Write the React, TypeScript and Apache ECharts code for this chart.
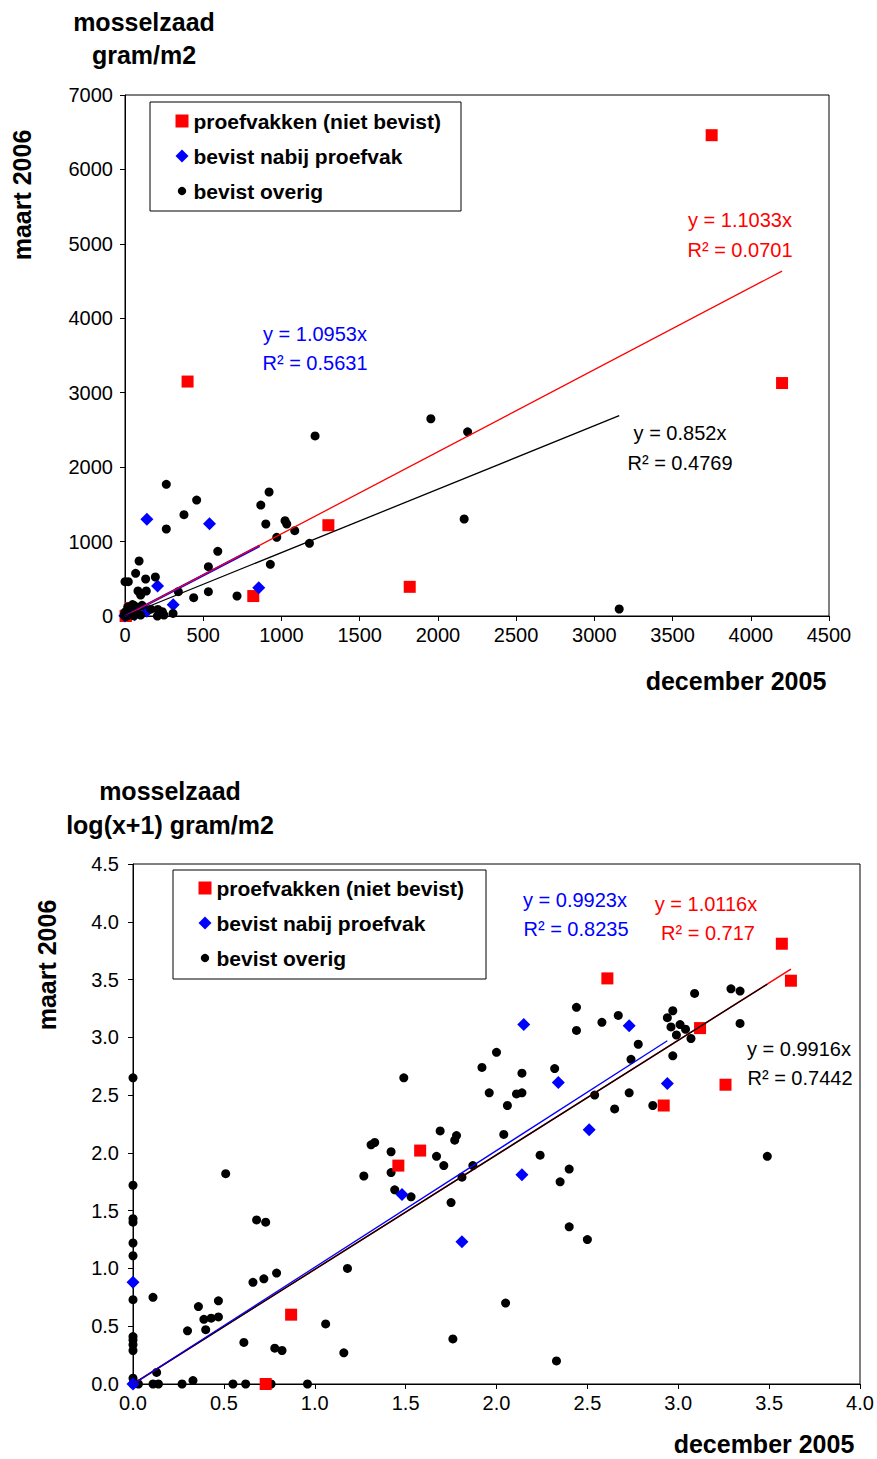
import React, { useEffect, useRef } from "react";
import * as echarts from "echarts";

const FONT = "'Liberation Sans', Arial, Helvetica, sans-serif";

const seriesNames = ["proefvakken (niet bevist)", "bevist nabij proefvak", "bevist overig"];

// ---------- Chart 1: gram/m2 ----------
const x1Range = [0, 4500, 500];
const y1Range = [0, 7000, 1000];

const red1 = [
  [400, 3150], [3750, 6460], [4200, 3130], [1300, 1220], [1820, 392], [820, 268],
  [37, 106], [29, 77], [6, 3], [4, 0],
];
const blue1 = [
  [140, 1300], [540, 1240], [208, 403], [308, 150], [855, 380],
  [29, 44], [62, 16], [140, 64], [0, 7], [0, 0],
];
const black1 = [
  [1215, 2420], [1955, 2650], [2190, 2475], [2168, 1303], [3159, 94], [264, 1769],
  [458, 1558], [377, 1361], [264, 1169], [921, 1666], [868, 1491], [900, 1236],
  [1023, 1280], [1034, 1236], [1085, 1146], [970, 1057], [1179, 977], [593, 869],
  [533, 663], [929, 694], [90, 739], [68, 573], [132, 497], [194, 524], [0, 461],
  [21, 461], [83, 336], [136, 336], [100, 282], [341, 327], [533, 327], [439, 246],
  [716, 269], [165, 92], [210, 88], [239, 58], [307, 34], [100, 13], [207, 0],
  [249, 13], [48, 154], [59, 140], [58, 128], [109, 144], [25, 101], [18, 62],
  [19, 116], [20, 122], [25, 67], [46, 92], [50, 77], [73, 77], [64, 61], [27, 47],
  [33, 41], [55, 36], [57, 2], [14, 9], [10, 2], [13, 1], [8, 0], [0, 52], [0, 27],
  [0, 16], [0, 12], [0, 4], [0, 1], [0, 0], [2, 0], [5, 0], [1, 0],
];
const trendRed1 = [[0, 0], [4200, 4634]];
const trendBlue1 = [[0, 0], [860, 942]];
const trendBlack1 = [[0, 0], [3159, 2691]];
const eqRed1 = ["y = 1.1033x", "R² = 0.0701"];
const eqBlue1 = ["y = 1.0953x", "R² = 0.5631"];
const eqBlack1 = ["y = 0.852x", "R² = 0.4769"];

// ---------- Chart 2: log(x+1) gram/m2 ----------
const x2Range = [0, 4, 0.5];
const y2Range = [0, 4.5, 0.5];

const red2 = [
  [3.57, 3.81], [3.62, 3.49], [2.61, 3.51], [3.12, 3.08], [3.26, 2.59], [2.92, 2.41],
  [1.58, 2.02], [1.46, 1.89], [0.87, 0.6], [0.73, 0.0],
];
const blue2 = [
  [0, 0.88], [0, 0], [1.48, 1.64], [1.81, 1.23], [2.14, 1.81], [2.15, 3.11],
  [2.34, 2.61], [2.51, 2.2], [2.73, 3.1], [2.94, 2.6],
];
const black2 = [
  [0, 2.65], [0, 1.72], [0, 1.43], [0, 1.4], [0, 1.22], [0, 1.11], [0, 0.73],
  [0, 0.41], [0, 0.38], [0, 0.34], [0, 0.29], [0, 0.05], [0, 0.0],
  [0.11, 0.75], [0.13, 0.1], [0.03, 0], [0.11, 0], [0.14, 0], [0.27, 0], [0.33, 0.03],
  [0.3, 0.46], [0.36, 0.67], [0.4, 0.47], [0.39, 0.56], [0.43, 0.57], [0.47, 0.58],
  [0.47, 0.72], [0.51, 1.82], [0.55, 0], [0.62, 0], [0.61, 0.36], [0.66, 0.88],
  [0.72, 0.91], [0.68, 1.42], [0.73, 1.4], [0.79, 0.96], [0.76, 0], [0.78, 0.31],
  [0.82, 0.29], [0.96, 0], [1.06, 0.52], [1.16, 0.27], [1.18, 1.0], [1.27, 1.8],
  [1.31, 2.07], [1.33, 2.09], [1.49, 2.65], [1.96, 2.52], [2.11, 2.51], [2.14, 2.52],
  [2.06, 2.41], [2.54, 2.5], [1.69, 2.19], [1.78, 2.15], [1.77, 2.11], [2.04, 2.16],
  [1.42, 2.01], [1.42, 1.83], [1.67, 1.97], [1.71, 1.89], [1.87, 1.89], [1.81, 1.79],
  [1.44, 1.68], [1.53, 1.62], [1.75, 1.57], [2.24, 1.98], [2.4, 1.86], [2.35, 1.75],
  [2.4, 1.36], [2.5, 1.25], [2.05, 0.7], [1.76, 0.39], [2.33, 0.2], [2.44, 3.26],
  [2.44, 3.06], [2.58, 3.13], [2.0, 2.87], [1.92, 2.74], [2.14, 2.69], [2.32, 2.73],
  [2.67, 3.19], [2.78, 2.94], [2.74, 2.81], [3.09, 3.38], [3.29, 3.42], [3.34, 3.4],
  [2.97, 3.23], [2.94, 3.17], [2.96, 3.09], [3.01, 3.11], [3.04, 3.07], [2.99, 3.02],
  [3.07, 2.99], [3.34, 3.12], [2.97, 2.84], [2.73, 2.52], [2.65, 2.38], [2.86, 2.41],
  [3.49, 1.97],
];
const trendRed2 = [[0, 0], [3.62, 3.59]];
const trendBlue2 = [[0, 0], [2.94, 2.97]];
const trendBlack2 = [[0, 0], [3.49, 3.46]];
const eqBlue2 = ["y = 0.9923x", "R² = 0.8235"];
const eqRed2 = ["y = 1.0116x", "R² = 0.717"];
const eqBlack2 = ["y = 0.9916x", "R² = 0.7442"];

const RED = "#ff0000";
const BLUE = "#0000ff";
const BLACK = "#000000";

const circleIcon = "path://M0,0M14,14M7,2.5A4.5,4.5,0,1,1,6.99,2.5Z";

function axis(gridIndex: number, r: number[], margin: number, fmt: (v: number) => string) {
  return {
    type: "value",
    gridIndex,
    min: r[0],
    max: r[1],
    interval: r[2],
    axisLine: { show: true, onZero: false, lineStyle: { color: BLACK, width: 1 } },
    axisTick: { show: true, inside: false, length: 5, lineStyle: { color: BLACK, width: 1 } },
    axisLabel: {
      color: BLACK,
      fontSize: 20,
      fontFamily: FONT,
      margin,
      formatter: (v: number) => fmt(v),
    },
    splitLine: { show: false },
  };
}

function scatter(name: string, data: number[][], idx: number, symbol: string, size: number, color: string, z: number) {
  return {
    type: "scatter",
    name,
    data,
    xAxisIndex: idx,
    yAxisIndex: idx,
    symbol,
    symbolSize: size,
    itemStyle: { color, opacity: 1 },
    z,
  };
}

function trend(name: string, data: number[][], idx: number, color: string, width: number, z: number) {
  return {
    type: "line",
    name,
    data,
    xAxisIndex: idx,
    yAxisIndex: idx,
    symbol: "none",
    showSymbol: false,
    silent: true,
    lineStyle: { color, width },
    z,
  };
}

function legend(left: number, top: number) {
  return {
    left,
    top,
    orient: "vertical",
    padding: 0,
    itemGap: 14,
    itemWidth: 13,
    itemHeight: 13,
    selectedMode: false,
    textStyle: { fontFamily: FONT, fontSize: 21, fontWeight: "bold", color: BLACK, lineHeight: 21 },
    data: [
      { name: seriesNames[0], icon: "rect" },
      { name: seriesNames[1], icon: "diamond" },
      { name: seriesNames[2], icon: circleIcon },
    ],
  };
}

function txt(x: number, y: number, text: string, size: number, color: string, bold = false, rotation = 0) {
  return {
    type: "text",
    x,
    y,
    rotation,
    silent: true,
    style: {
      text,
      fill: color,
      font: `${bold ? "bold " : ""}${size}px ${FONT}`,
      textAlign: "center",
      textVerticalAlign: "middle",
    },
  };
}

function box(x: number, y: number, w: number, h: number) {
  return {
    type: "rect",
    shape: { x, y, width: w, height: h },
    style: { fill: "#fff", stroke: BLACK, lineWidth: 1 },
    z: 1,
    silent: true,
  };
}

export default function App() {
  const ref = useRef<HTMLDivElement>(null);
  useEffect(() => {
    if (!ref.current) return;
    const chart = echarts.init(ref.current, undefined, { renderer: "svg" });
    const fmt0 = (v: number) => String(v);
    const fmt1 = (v: number) => v.toFixed(1);
    const option: any = {
      animation: false,
      backgroundColor: "#ffffff",
      textStyle: { fontFamily: FONT },
      grid: [
        { left: 125, top: 95, width: 704, height: 521, show: true, borderColor: BLACK, borderWidth: 1, backgroundColor: "transparent" },
        { left: 133, top: 864, width: 727, height: 520, show: true, borderColor: BLACK, borderWidth: 1, backgroundColor: "transparent" },
      ],
      xAxis: [axis(0, x1Range, 9, fmt0), axis(1, x2Range, 9, fmt1)],
      yAxis: [axis(0, y1Range, 12, fmt0), axis(1, y2Range, 14, fmt1)],
      legend: [legend(175.5, 110.5), legend(198.5, 877.5)],
      series: [
        // chart 1: black markers drawn on top
        scatter(seriesNames[0], red1, 0, "rect", 12, RED, 2),
        scatter(seriesNames[1], blue1, 0, "diamond", 13, BLUE, 2),
        scatter(seriesNames[2], black1, 0, "circle", 9, BLACK, 2),
        trend("trend blauw 1", trendBlue1, 0, BLUE, 2.5, 3),
        trend("trend rood 1", trendRed1, 0, RED, 1.3, 4),
        trend("trend zwart 1", trendBlack1, 0, BLACK, 1.3, 4),
        // chart 2: red markers drawn on top
        scatter(seriesNames[2], black2, 1, "circle", 9, BLACK, 2),
        scatter(seriesNames[1], blue2, 1, "diamond", 13, BLUE, 2),
        scatter(seriesNames[0], red2, 1, "rect", 12, RED, 2),
        trend("trend rood 2", trendRed2, 1, RED, 1.5, 3),
        trend("trend zwart 2", trendBlack2, 1, BLACK, 1.3, 4),
        trend("trend blauw 2", trendBlue2, 1, BLUE, 1.3, 5),
      ],
      graphic: [
        box(150, 102, 311, 109),
        box(173, 870, 313, 109),
        txt(144, 22, "mosselzaad", 25, BLACK, true),
        txt(144, 55, "gram/m2", 25, BLACK, true),
        txt(22, 195, "maart 2006", 25, BLACK, true, Math.PI / 2),
        txt(736, 681, "december 2005", 25, BLACK, true),
        txt(740, 220, eqRed1[0], 20, RED),
        txt(740, 250, eqRed1[1], 20, RED),
        txt(315, 334, eqBlue1[0], 20, BLUE),
        txt(315, 363, eqBlue1[1], 20, BLUE),
        txt(680, 433, eqBlack1[0], 20, BLACK),
        txt(680, 463, eqBlack1[1], 20, BLACK),
        txt(170, 791, "mosselzaad", 25, BLACK, true),
        txt(170, 825, "log(x+1) gram/m2", 25, BLACK, true),
        txt(47, 965, "maart 2006", 25, BLACK, true, Math.PI / 2),
        txt(764, 1444, "december 2005", 25, BLACK, true),
        txt(575, 900, eqBlue2[0], 20, BLUE),
        txt(576, 929, eqBlue2[1], 20, BLUE),
        txt(706, 904, eqRed2[0], 20, RED),
        txt(708, 933, eqRed2[1], 20, RED),
        txt(799, 1049, eqBlack2[0], 20, BLACK),
        txt(800, 1078, eqBlack2[1], 20, BLACK),
      ],
    };
    chart.setOption(option);
    return () => chart.dispose();
  }, []);
  return (
    <div
      ref={ref}
      style={{ position: "absolute", left: 0, top: 0, width: 877, height: 1459, background: "#fff" }}
    />
  );
}
